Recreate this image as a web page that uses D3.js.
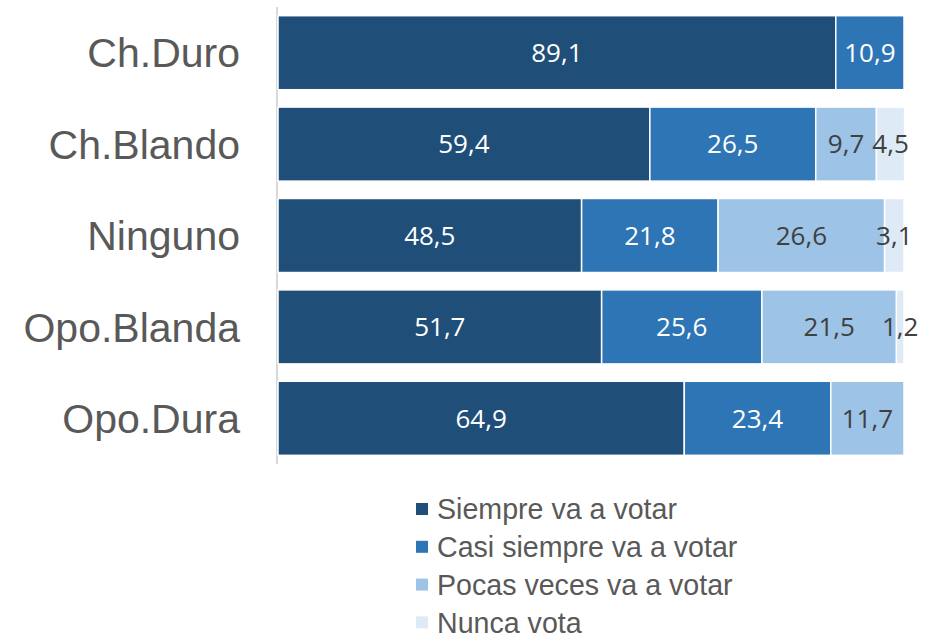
<!DOCTYPE html>
<meta charset="utf-8">
<script src="https://cdn.jsdelivr.net/npm/d3@7"></script>
<style>
body { margin: 0; background: #fff; }
.cat { font-family: "Liberation Sans", Arial, sans-serif; font-size: 41px; fill: #595959; }
.val { font-family: "Open Sans", sans-serif; font-size: 26px; }
.leg { font-family: "Liberation Sans", Arial, sans-serif; font-size: 28.6px; fill: #595959; }
</style>
<body>
<div id="chart"></div>
<script>
var categories = ["Ch.Duro", "Ch.Blando", "Ninguno", "Opo.Blanda", "Opo.Dura"]
var seriesNames = ["Siempre va a votar", "Casi siempre va a votar", "Pocas veces va a votar", "Nunca vota"]
var siempre = [89.1, 59.4, 48.5, 51.7, 64.9]
var casiSiempre = [10.9, 26.5, 21.8, 25.6, 23.4]
var pocasVeces = [0, 9.7, 26.6, 21.5, 11.7]
var nunca = [0, 4.5, 3.1, 1.2, 0]
var colors = ["#1f4e79", "#2e75b6", "#9dc3e6", "#deebf7"]
var labelColors = ["#ffffff", "#ffffff", "#404040", "#404040"]

var width = 927, height = 639

var series = [siempre, casiSiempre, pocasVeces, nunca]
var rows = categories.map(function(c, i){
  var r = {cat: c}
  seriesNames.forEach(function(s, j){ r[s] = series[j][i] })
  return r
})

var stacked = d3.stack().keys(seriesNames)(rows)

var svg = d3.select("#chart").append("svg")
  .attr("width", width)
  .attr("height", height)

var x = d3.scaleLinear()
  .domain([0, 100])
  .range([278, 904])

var y = d3.scaleBand()
  .domain(categories)
  .range([7, 464])
  .paddingInner(0.19)
  .paddingOuter(0.095)

// axis line
svg.append("line")
  .attr("x1", 277).attr("x2", 277)
  .attr("y1", 7).attr("y2", 464)
  .attr("stroke", "#d9d9d9")
  .attr("stroke-width", 2)

// bars
var groups = svg.selectAll("g.layer")
  .data(stacked)
  .enter().append("g")
  .attr("class", "layer")
  .attr("fill", function(d, i){ return colors[i] })

groups.selectAll("rect")
  .data(function(d){ return d.filter(function(p){ return p[1] - p[0] > 0 }) })
  .enter().append("rect")
  .attr("x", function(d){ return x(d[0]) })
  .attr("y", function(d){ return y(d.data.cat) })
  .attr("width", function(d){ return x(d[1]) - x(d[0]) })
  .attr("height", y.bandwidth())
  .attr("stroke", "#ffffff")
  .attr("stroke-width", 1.5)

// value labels
stacked.forEach(function(layer, i){
  svg.append("g").selectAll("text")
    .data(layer.filter(function(p){ return p[1] - p[0] > 0 }))
    .enter().append("text")
    .attr("class", "val")
    .attr("fill", labelColors[i])
    .attr("text-anchor", "middle")
    .attr("x", function(d){ return (x(d[0]) + x(d[1])) / 2 })
    .attr("y", function(d){ return y(d.data.cat) + y.bandwidth() / 2 })
    .attr("dy", "0.36em")
    .text(function(d){ return d3.format(".1f")(d[1] - d[0]).replace(".", ",") })
})

// category labels
svg.append("g").selectAll("text")
  .data(categories)
  .enter().append("text")
  .attr("class", "cat")
  .attr("text-anchor", "end")
  .attr("x", 240)
  .attr("y", function(d){ return y(d) + y.bandwidth() / 2 })
  .attr("dy", "0.36em")
  .text(function(d){ return d })

// legend
var legend = svg.append("g").selectAll("g")
  .data(seriesNames)
  .enter().append("g")
  .attr("transform", function(d, i){ return "translate(416," + (509 + i * 37.8) + ")" })

legend.append("rect")
  .attr("x", 0).attr("y", -6)
  .attr("width", 12).attr("height", 12)
  .attr("fill", function(d, i){ return colors[i] })

legend.append("text")
  .attr("class", "leg")
  .attr("x", 21)
  .attr("dy", "0.36em")
  .text(function(d){ return d })
</script>
</body>
